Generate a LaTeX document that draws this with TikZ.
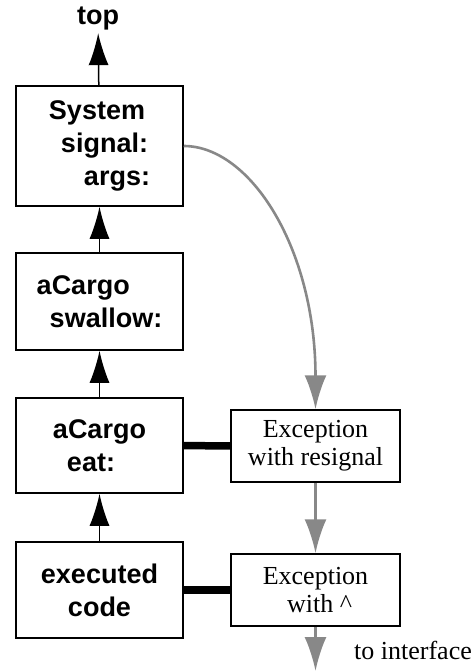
\documentclass[tikz,border=0pt]{standalone}
\usepackage{fontspec}
\setmainfont{Liberation Serif}
\setsansfont{Liberation Sans}
\usetikzlibrary{positioning,arrows.meta}

\definecolor{flowgray}{RGB}{136,136,136}

\tikzset{
  callbox/.style={draw, line width=1.5pt, minimum width=167pt, inner sep=0pt,
    font=\sffamily\bfseries\fontsize{27}{33}\selectfont},
  excbox/.style={draw, line width=1.5pt, minimum width=169pt, minimum height=72pt,
    inner sep=0pt, align=center, font=\fontsize{26}{28}\selectfont},
  callarrow/.style={-{Latex[length=32pt,width=20pt]}, line width=1.5pt},
  flowarrow/.style={-{Latex[length=34pt,width=22pt]}, line width=2.6pt, flowgray},
  handler/.style={line width=7.5pt}
}

\begin{document}
\begin{tikzpicture}[x=1pt,y=-1pt]
  \useasboundingbox (0,0) rectangle (475,671);

  % call stack
  \node[callbox, minimum height=120pt, align=left] (sys) at (99.5,146)
    {System\\\hspace{12pt}signal:\\\hspace{35pt}args:};
  \node[callbox, minimum height=97pt, align=left] (swallow) at (99.5,301.5)
    {aCargo\\\hspace{13pt}swallow:};
  \node[callbox, minimum height=95pt, align=left] (eat) at (99.5,445.5)
    {aCargo\\\hspace{14pt}eat:};
  \node[callbox, minimum height=96pt, align=center] (exec) at (99.5,590)
    {executed\\code};
  \node[font=\sffamily\bfseries\fontsize{27}{33}\selectfont] (top) at (98,18) {top};

  \draw[callarrow] (sys) -- (top);
  \draw[callarrow] (swallow) -- (sys);
  \draw[callarrow] (eat) -- (swallow);
  \draw[callarrow] (exec) -- (eat);

  % handlers
  \node[excbox] (resig) at (315.5,446) {Exception\\with resignal};
  \node[excbox] (ret) at (315.5,590) {Exception\\\hspace{8pt}with \^{}};
  \coordinate (out) at (315.5,671);
  \node[font=\fontsize{26}{28}\selectfont] (iface) at (413,650) {to interface};

  \draw[handler] (eat) -- (resig);
  \draw[handler] (exec) -- (ret);

  \draw[flowarrow] (sys.east) .. controls +(67,0) and +(0,-160) .. (resig.north);
  \draw[flowarrow] (resig) -- (ret);
  \draw[flowarrow] (ret) -- (out);
\end{tikzpicture}
\end{document}
